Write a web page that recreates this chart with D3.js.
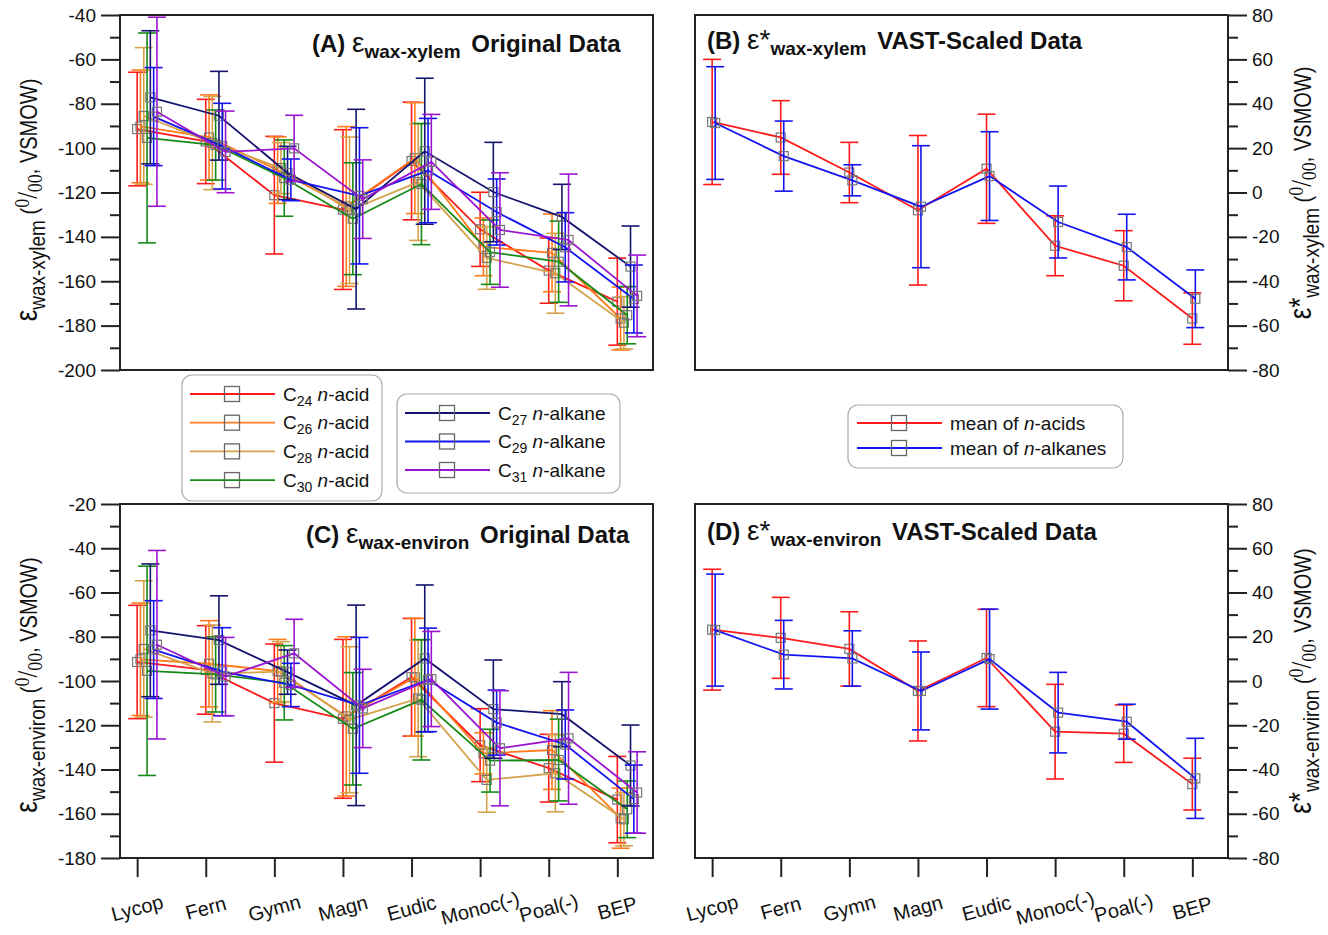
<!DOCTYPE html>
<html>
<head>
<meta charset="utf-8">
<script src="https://cdn.jsdelivr.net/npm/d3@7"></script>
<style>
  body { margin: 0; background: #fff; }
  text { font-family: "Liberation Sans", Arial, sans-serif; fill: #111; }
</style>
</head>
<body>
<div id="chart-area"></div>
<script>

var categories = ["Lycop", "Fern", "Gymn", "Magn", "Eudic", "Monoc(-)", "Poal(-)", "BEP"];

// (A) eps wax-xylem, original data: means and error (+/-)
var xylemC24 = [-91.4, -97.0, -121.2, -127.7, -105.8, -136.6, -155.2, -169.2];
var xylemC24Err = [25.6, 19.0, 26.5, 36.0, 26.5, 16.7, 14.7, 19.6];
var xylemC26 = [-90.2, -95.2, -109.9, -126.3, -104.5, -144.5, -147.2, -176.8];
var xylemC26Err = [25.4, 19.2, 15.0, 36.0, 25.0, 13.0, 17.5, 14.2];
var xylemC28 = [-85.5, -97.7, -109.0, -128.0, -115.3, -149.5, -156.4, -178.7];
var xylemC28Err = [30.8, 21.0, 11.5, 33.0, 26.3, 14.1, 18.0, 11.8];
var xylemC30 = [-95.4, -98.6, -113.5, -131.8, -116.2, -146.9, -151.2, -175.3];
var xylemC30Err = [47.3, 15.8, 17.2, 25.2, 27.3, 14.5, 18.3, 12.9];
var xylemC27 = [-77.1, -85.4, -111.2, -127.5, -101.4, -119.8, -131.0, -153.4];
var xylemC27Err = [30.0, 20.0, 12.0, 45.0, 32.9, 22.4, 14.7, 18.3];
var xylemC29 = [-85.8, -99.1, -114.3, -121.5, -110.1, -128.8, -144.7, -168.0];
var xylemC29Err = [22.1, 19.3, 9.4, 30.7, 23.5, 14.9, 15.6, 15.3];
var xylemC31 = [-83.6, -101.7, -100.1, -123.0, -106.2, -136.9, -141.4, -166.6];
var xylemC31Err = [42.6, 18.4, 14.9, 17.7, 21.4, 25.8, 29.7, 18.4];

// (C) eps wax-environ, original data
var envC24 = [-91.4, -95.0, -110.0, -117.1, -98.3, -129.0, -139.4, -153.6];
var envC24Err = [25.6, 20.0, 26.7, 35.9, 26.6, 16.5, 15.3, 19.5];
var envC26 = [-90.2, -92.2, -95.5, -116.0, -98.3, -132.7, -131.2, -162.0];
var envC26Err = [25.4, 19.5, 14.3, 36.0, 26.6, 9.3, 17.8, 13.6];
var envC28 = [-85.5, -96.6, -95.8, -117.5, -107.9, -144.7, -141.7, -162.5];
var envC28Err = [30.8, 21.9, 13.6, 33.0, 26.3, 14.6, 17.4, 12.0];
var envC30 = [-95.4, -97.0, -100.8, -121.6, -108.5, -136.0, -135.7, -158.0];
var envC30Err = [47.3, 17.0, 16.8, 25.4, 27.2, 14.2, 18.5, 12.8];
var envC27 = [-77.1, -81.5, -96.0, -111.0, -89.8, -112.7, -115.0, -138.2];
var envC27Err = [30.0, 20.0, 10.0, 45.3, 33.2, 22.2, 14.7, 18.3];
var envC29 = [-85.8, -95.8, -101.8, -111.0, -99.5, -118.8, -128.7, -153.4];
var envC29Err = [22.1, 19.9, 9.8, 30.7, 23.4, 14.7, 15.6, 15.4];
var envC31 = [-83.6, -98.0, -87.5, -112.4, -99.1, -130.4, -125.9, -150.4];
var envC31Err = [42.6, 17.7, 15.4, 17.7, 21.5, 26.0, 29.8, 18.4];

// (B) eps* wax-xylem, VAST-scaled
var vastXylemAcids = [31.8, 24.8, 9.0, -8.0, 10.7, -24.0, -33.0, -56.8];
var vastXylemAcidsErr = [28.2, 16.6, 13.6, 33.7, 24.6, 13.5, 15.8, 11.6];
var vastXylemAlkanes = [31.3, 16.4, 5.5, -6.4, 7.4, -13.3, -24.6, -47.9];
var vastXylemAlkanesErr = [25.4, 15.8, 7.0, 27.5, 20.0, 16.2, 14.8, 13.0];

// (D) eps* wax-environ, VAST-scaled
var vastEnvAcids = [23.2, 19.5, 14.5, -4.5, 10.4, -22.9, -23.8, -46.6];
var vastEnvAcidsErr = [27.3, 18.3, 16.8, 22.6, 22.0, 21.4, 13.0, 11.7];
var vastEnvAlkanes = [23.0, 11.9, 10.2, -4.5, 9.9, -14.3, -18.4, -44.0];
var vastEnvAlkanesErr = [25.3, 15.5, 12.5, 17.6, 22.6, 18.2, 7.9, 18.1];

var ticksA = [-200, -180, -160, -140, -120, -100, -80, -60, -40];
var ticksC = [-180, -160, -140, -120, -100, -80, -60, -40, -20];
var ticksVast = [-80, -60, -40, -20, 0, 20, 40, 60, 80];

var acidNames = ["24", "26", "28", "30"];
var alkaneNames = ["27", "29", "31"];

var svg = d3.select("#chart-area")
    .append("svg")
    .attr("width", 1328)
    .attr("height", 935);

var W = 533;
var leftL = 120, leftR = 695;
var topA = 15, botA = 370, topC = 504, botC = 858;

var xL = d3.scaleLinear().domain([-0.25, 7.52]).range([leftL, leftL + W]);
var xR = d3.scaleLinear().domain([-0.25, 7.52]).range([leftR, leftR + W]);

var yA = d3.scaleLinear().domain([-200, -40]).range([botA, topA]);
var yC = d3.scaleLinear().domain([-180, -20]).range([botC, topC]);
var yB = d3.scaleLinear().domain([-80, 80]).range([botA, topA]);
var yD = d3.scaleLinear().domain([-80, 80]).range([botC, topC]);

var origSeries = [
    {sub: "24", color: "#ff1a1a", a: xylemC24, aErr: xylemC24Err, c: envC24, cErr: envC24Err},
    {sub: "26", color: "#ff7a1a", a: xylemC26, aErr: xylemC26Err, c: envC26, cErr: envC26Err},
    {sub: "28", color: "#d4a24a", a: xylemC28, aErr: xylemC28Err, c: envC28, cErr: envC28Err},
    {sub: "30", color: "#168a16", a: xylemC30, aErr: xylemC30Err, c: envC30, cErr: envC30Err},
    {sub: "27", color: "#14146e", a: xylemC27, aErr: xylemC27Err, c: envC27, cErr: envC27Err},
    {sub: "29", color: "#1414f0", a: xylemC29, aErr: xylemC29Err, c: envC29, cErr: envC29Err},
    {sub: "31", color: "#9a14d0", a: xylemC31, aErr: xylemC31Err, c: envC31, cErr: envC31Err}
];

function drawSeries(x, y, vals, errs, color, dx) {
    var pts = vals.map(function(v, i) { return {i: i, v: v, e: errs[i]}; });
    var g = svg.append("g");

    var bars = g.selectAll("g.bar")
        .data(pts)
        .enter()
        .append("g")
        .attr("class", "bar")
        .attr("stroke", color)
        .attr("stroke-width", 1.6);
    bars.append("line")
        .attr("x1", function(d) { return x(d.i) + dx; })
        .attr("x2", function(d) { return x(d.i) + dx; })
        .attr("y1", function(d) { return y(d.v + d.e); })
        .attr("y2", function(d) { return y(d.v - d.e); });
    [1, -1].forEach(function(s) {
        bars.append("line")
            .attr("x1", function(d) { return x(d.i) + dx - 9; })
            .attr("x2", function(d) { return x(d.i) + dx + 9; })
            .attr("y1", function(d) { return y(d.v + s * d.e); })
            .attr("y2", function(d) { return y(d.v + s * d.e); });
    });

    g.append("path")
        .datum(pts)
        .attr("fill", "none")
        .attr("stroke", color)
        .attr("stroke-width", 1.8)
        .attr("d", d3.line()
            .x(function(d) { return x(d.i) + dx; })
            .y(function(d) { return y(d.v); }));

    g.selectAll("rect")
        .data(pts)
        .enter()
        .append("rect")
        .attr("x", function(d) { return x(d.i) + dx - 4.5; })
        .attr("y", function(d) { return y(d.v) - 4.5; })
        .attr("width", 9)
        .attr("height", 9)
        .attr("fill", "none")
        .attr("stroke", "#777")
        .attr("stroke-width", 1.2);
}

origSeries.forEach(function(s, k) {
    var dx = k * 3.3;
    drawSeries(xL, yA, s.a, s.aErr, s.color, dx);
    drawSeries(xL, yC, s.c, s.cErr, s.color, dx);
});

drawSeries(xR, yB, vastXylemAcids, vastXylemAcidsErr, "#ff1a1a", 0);
drawSeries(xR, yB, vastXylemAlkanes, vastXylemAlkanesErr, "#1414f0", 3);
drawSeries(xR, yD, vastEnvAcids, vastEnvAcidsErr, "#ff1a1a", 0);
drawSeries(xR, yD, vastEnvAlkanes, vastEnvAlkanesErr, "#1414f0", 3);

// frames
[[leftL, topA, botA], [leftL, topC, botC], [leftR, topA, botA], [leftR, topC, botC]].forEach(function(f) {
    svg.append("rect")
        .attr("x", f[0]).attr("y", f[1])
        .attr("width", W).attr("height", f[2] - f[1])
        .attr("fill", "none")
        .attr("stroke", "#222")
        .attr("stroke-width", 2);
});

function minorOf(ticks) {
    var m = [];
    for (var i = 0; i < ticks.length - 1; i++) m.push((ticks[i] + ticks[i + 1]) / 2);
    return m;
}

function styleAxis(g) {
    g.select(".domain").remove();
    g.selectAll("line").attr("stroke", "#222").attr("stroke-width", 2);
    g.selectAll("text")
        .attr("font-size", 19)
        .attr("font-family", "'Liberation Sans', Arial, sans-serif")
        .attr("fill", "#111");
}

function yAxis(y, ticks, xpos, left) {
    var make = left ? d3.axisLeft : d3.axisRight;
    svg.append("g")
        .attr("transform", "translate(" + xpos + ",0)")
        .call(make(y).tickValues(ticks).tickSize(19).tickPadding(5)
            .tickFormat(function(d) { return String(d); }))
        .call(styleAxis);
    svg.append("g")
        .attr("transform", "translate(" + xpos + ",0)")
        .call(make(y).tickValues(minorOf(ticks)).tickSize(10).tickFormat(""))
        .call(styleAxis);
}

yAxis(yA, ticksA, leftL, true);
yAxis(yC, ticksC, leftL, true);
yAxis(yB, ticksVast, leftR + W, false);
yAxis(yD, ticksVast, leftR + W, false);

[xL, xR].forEach(function(x) {
    svg.append("g")
        .attr("transform", "translate(0," + botC + ")")
        .call(d3.axisBottom(x).tickValues(d3.range(categories.length)).tickSize(19).tickFormat(""))
        .call(styleAxis);
    svg.append("g").selectAll("text")
        .data(categories)
        .enter()
        .append("text")
        .attr("transform", function(d, i) { return "translate(" + x(i) + ",908) rotate(-15)"; })
        .attr("text-anchor", "middle")
        .attr("dy", "0.35em")
        .attr("font-size", 20)
        .text(function(d) { return d; });
});

// panel titles
function panelTitle(px, py, letter, star, sub, rest) {
    var t = svg.append("text")
        .attr("x", px).attr("y", py)
        .attr("font-weight", "bold")
        .attr("font-size", 24);
    t.append("tspan").text("(" + letter + ") ");
    t.append("tspan").attr("font-weight", "normal").attr("font-size", 28).text("\u03b5" + (star ? "*" : ""));
    t.append("tspan").attr("font-size", 19).attr("dy", 6).text(sub);
    t.append("tspan").attr("dy", -6).attr("dx", 4).text(" " + rest);
}

panelTitle(312, 52, "A", false, "wax-xylem", "Original Data");
panelTitle(306, 543, "C", false, "wax-environ", "Original Data");
panelTitle(707, 49, "B", true, "wax-xylem", "VAST-Scaled Data");
panelTitle(707, 540, "D", true, "wax-environ", "VAST-Scaled Data");

// axis titles (rotated, glyphs slightly widened as in the source figure)
function axisTitle(px, py, star, sub) {
    var t = svg.append("text")
        .attr("transform", "translate(" + px + "," + py + ") rotate(-90) scale(1,1.2)")
        .attr("text-anchor", "middle")
        .attr("font-size", 20);
    t.append("tspan").attr("font-size", 26).text("\u03b5" + (star ? "*" : ""));
    t.append("tspan").attr("font-size", 19).attr("dy", 7).text(sub);
    t.append("tspan").attr("dy", -7).text(" (");
    t.append("tspan").attr("font-family", "'Liberation Serif', serif").attr("font-size", 18).attr("dy", -7).text("0");
    t.append("tspan").attr("font-family", "'Liberation Serif', serif").attr("font-size", 24).attr("dy", 7).text("/");
    t.append("tspan").attr("font-family", "'Liberation Serif', serif").attr("font-size", 18).attr("dy", 4).text("00");
    t.append("tspan").attr("dy", -4).text(",  VSMOW)");
}

axisTitle(37, 200, false, "wax-xylem");
axisTitle(37, 685, false, "wax-environ");
axisTitle(1311, 193, true, "wax-xylem");
axisTitle(1311, 681, true, "wax-environ");

// legends
function legendBox(bx, by, bw, bh, rows) {
    svg.append("rect")
        .attr("x", bx).attr("y", by)
        .attr("width", bw).attr("height", bh)
        .attr("rx", 10)
        .attr("fill", "#fff")
        .attr("stroke", "#aaa")
        .attr("stroke-width", 1.2);
    rows.forEach(function(r) {
        svg.append("line")
            .attr("x1", r.x).attr("x2", r.x + 85)
            .attr("y1", r.y).attr("y2", r.y)
            .attr("stroke", r.color).attr("stroke-width", 1.8);
        svg.append("rect")
            .attr("x", r.x + 42 - 7.5).attr("y", r.y - 7.5)
            .attr("width", 15).attr("height", 15)
            .attr("fill", "none").attr("stroke", "#666").attr("stroke-width", 1.3);
        var t = svg.append("text")
            .attr("x", r.x + 93).attr("y", r.y)
            .attr("dy", "0.35em")
            .attr("font-size", 19);
        r.label(t);
    });
}

function chainLabel(sub, word) {
    return function(t) {
        t.append("tspan").text("C");
        t.append("tspan").attr("font-size", 14).attr("dy", 5).text(sub);
        t.append("tspan").attr("dy", -5).text(" ");
        t.append("tspan").attr("font-style", "italic").text("n");
        t.append("tspan").text("-" + word);
    };
}

function meanLabel(word) {
    return function(t) {
        t.append("tspan").text("mean of ");
        t.append("tspan").attr("font-style", "italic").text("n");
        t.append("tspan").text("-" + word);
    };
}

legendBox(182, 375, 200, 126, acidNames.map(function(n, i) {
    return {x: 190, y: 394 + i * 28.7, color: origSeries[i].color, label: chainLabel(n, "acid")};
}));
legendBox(397, 394, 223, 99, alkaneNames.map(function(n, i) {
    return {x: 405, y: 413 + i * 28.5, color: origSeries[i + 4].color, label: chainLabel(n, "alkane")};
}));
legendBox(848, 405, 275, 63, [
    {x: 857, y: 423, color: "#ff1a1a", label: meanLabel("acids")},
    {x: 857, y: 448, color: "#1414f0", label: meanLabel("alkanes")}
]);

</script>
</body>
</html>
